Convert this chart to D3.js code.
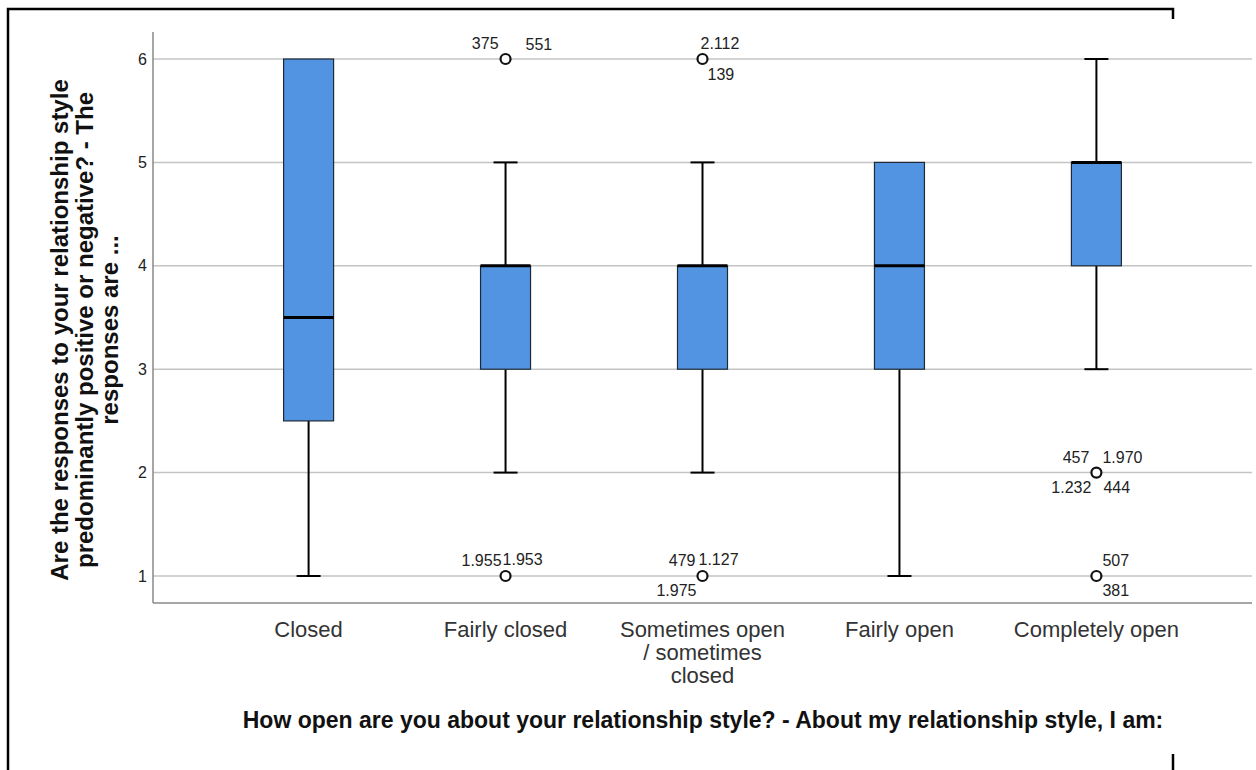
<!DOCTYPE html>
<html lang="en">
<head>
  <meta charset="utf-8">
  <title>Boxplot</title>
  <script src="https://cdn.jsdelivr.net/npm/d3@7"></script>
  <style>
    body { margin: 0; background: #fff; }
    text { font-family: "Liberation Sans", Arial, sans-serif; }
    .tick-label { font-size: 16px; fill: #222; }
    .cat-label { font-size: 22px; fill: #333; }
    .axis-title { font-size: 23px; font-weight: bold; fill: #111; }
    .y-title { font-size: 24px; }
    .out-label { font-size: 16px; fill: #222; }
  </style>
</head>
<body>
<script>
  // categories and five-number summaries
  var categories = ["Closed", "Fairly closed", "Sometimes open / sometimes closed", "Fairly open", "Completely open"];
  var categoryLines = [["Closed"], ["Fairly closed"], ["Sometimes open", "/ sometimes", "closed"], ["Fairly open"], ["Completely open"]];
  var whiskerLow = [1, 2, 2, 1, 3];
  var q1 = [2.5, 3, 3, 3, 4];
  var median = [3.5, 4, 4, 4, 5];
  var q3 = [6, 4, 4, 5, 5];
  var whiskerHigh = [6, 5, 5, 5, 6];

  // outliers: category index, value, case labels
  var outlierCat = [1, 1, 2, 2, 4, 4];
  var outlierValue = [6, 1, 6, 1, 2, 1];
  var outlierLabels = [["375", "551"], ["1.955", "1.953"], ["2.112", "139"], ["479", "1.127", "1.975"], ["457", "1.970", "1.232", "444"], ["507", "381"]];
  // label placement (dx, dy, anchor) relative to the circle
  var outlierLabelPos = [
    [[-7, -10, "end"], [20, -9, "start"]],
    [[-4, -10, "end"], [-3, -11, "start"]],
    [[-2, -10, "start"], [5, 21, "start"]],
    [[-7, -10, "end"], [-4, -11, "start"], [-6, 20, "end"]],
    [[-7, -10, "end"], [6, -10, "start"], [-5, 20, "end"], [7, 20, "start"]],
    [[6, -10, "start"], [6, 20, "start"]]
  ];
  var yTicks = [1, 2, 3, 4, 5, 6];

  var W = 1256, H = 770;
  var plotLeft = 153, plotRight = 1252, plotTop = 32, plotBottom = 603;

  var svg = d3.select("body").append("svg")
    .attr("width", W).attr("height", H);

  // document frame
  svg.append("path")
    .attr("d", "M8,770 V9 H1173 V19")
    .attr("fill", "none").attr("stroke", "#000").attr("stroke-width", 2.5);
  svg.append("line")
    .attr("x1", 1173).attr("x2", 1173).attr("y1", 754).attr("y2", 770)
    .attr("stroke", "#000").attr("stroke-width", 2.5);

  var x = d3.scalePoint()
    .domain(categories)
    .range([plotLeft, plotRight])
    .padding(0.79);

  var y = d3.scaleLinear()
    .domain([1, 6])
    .range([576, 59]);

  // gridlines
  svg.append("g").selectAll("line")
    .data(yTicks)
    .enter().append("line")
    .attr("x1", plotLeft).attr("x2", plotRight)
    .attr("y1", function(d) { return y(d); })
    .attr("y2", function(d) { return y(d); })
    .attr("stroke", "#c4c4c4").attr("stroke-width", 1.5);

  // axis lines
  svg.append("line")
    .attr("x1", plotLeft).attr("x2", plotLeft)
    .attr("y1", plotTop).attr("y2", plotBottom)
    .attr("stroke", "#888").attr("stroke-width", 1.5);
  svg.append("line")
    .attr("x1", plotLeft).attr("x2", plotRight)
    .attr("y1", plotBottom).attr("y2", plotBottom)
    .attr("stroke", "#888").attr("stroke-width", 1.5);

  // y tick labels
  svg.append("g").selectAll("text")
    .data(yTicks)
    .enter().append("text")
    .attr("class", "tick-label")
    .attr("x", 147)
    .attr("y", function(d) { return y(d); })
    .attr("dy", "0.35em")
    .attr("text-anchor", "end")
    .text(function(d) { return d; });

  // category labels
  categories.forEach(function(c, i) {
    var t = svg.append("text")
      .attr("class", "cat-label")
      .attr("text-anchor", "middle")
      .attr("x", x(c))
      .attr("y", 637);
    categoryLines[i].forEach(function(line, j) {
      t.append("tspan")
        .attr("x", x(c))
        .attr("dy", j === 0 ? 0 : 23)
        .text(line);
    });
  });

  var boxW = 50, capW = 24;

  var boxes = svg.append("g").selectAll("g")
    .data(categories)
    .enter().append("g");

  // whiskers
  boxes.append("line")
    .attr("x1", function(d) { return x(d); })
    .attr("x2", function(d) { return x(d); })
    .attr("y1", function(d, i) { return y(whiskerLow[i]); })
    .attr("y2", function(d, i) { return y(q1[i]); })
    .attr("stroke", "#000").attr("stroke-width", 2);
  boxes.append("line")
    .attr("x1", function(d) { return x(d); })
    .attr("x2", function(d) { return x(d); })
    .attr("y1", function(d, i) { return y(q3[i]); })
    .attr("y2", function(d, i) { return y(whiskerHigh[i]); })
    .attr("stroke", "#000").attr("stroke-width", 2);
  boxes.append("line")
    .attr("x1", function(d) { return x(d) - capW / 2; })
    .attr("x2", function(d) { return x(d) + capW / 2; })
    .attr("y1", function(d, i) { return y(whiskerLow[i]); })
    .attr("y2", function(d, i) { return y(whiskerLow[i]); })
    .attr("stroke", "#000").attr("stroke-width", 2);
  boxes.append("line")
    .attr("x1", function(d) { return x(d) - capW / 2; })
    .attr("x2", function(d) { return x(d) + capW / 2; })
    .attr("y1", function(d, i) { return y(whiskerHigh[i]); })
    .attr("y2", function(d, i) { return y(whiskerHigh[i]); })
    .attr("stroke", "#000").attr("stroke-width", 2)
    .attr("display", function(d, i) { return whiskerHigh[i] === q3[i] ? "none" : null; });

  // boxes
  boxes.append("rect")
    .attr("x", function(d) { return x(d) - boxW / 2; })
    .attr("width", boxW)
    .attr("y", function(d, i) { return y(q3[i]); })
    .attr("height", function(d, i) { return y(q1[i]) - y(q3[i]); })
    .attr("fill", "#5294e2")
    .attr("stroke", "#1f2a36").attr("stroke-width", 1.2);

  // medians
  boxes.append("line")
    .attr("x1", function(d) { return x(d) - boxW / 2; })
    .attr("x2", function(d) { return x(d) + boxW / 2; })
    .attr("y1", function(d, i) { return y(median[i]); })
    .attr("y2", function(d, i) { return y(median[i]); })
    .attr("stroke", "#000").attr("stroke-width", 3);

  // outliers
  outlierCat.forEach(function(ci, k) {
    var cx = x(categories[ci]), cy = y(outlierValue[k]);
    svg.append("circle")
      .attr("cx", cx).attr("cy", cy).attr("r", 5)
      .attr("fill", "#fff").attr("stroke", "#111").attr("stroke-width", 2.2);
    outlierLabels[k].forEach(function(lbl, j) {
      var p = outlierLabelPos[k][j];
      svg.append("text")
        .attr("class", "out-label")
        .attr("x", cx + p[0]).attr("y", cy + p[1])
        .attr("text-anchor", p[2])
        .text(lbl);
    });
  });

  // axis titles
  svg.append("text")
    .attr("class", "axis-title")
    .attr("x", 703).attr("y", 728)
    .attr("text-anchor", "middle")
    .text("How open are you about your relationship style? - About my relationship style, I am:");

  var yTitle = ["Are the responses to your relationship style", "predominantly positive or negative? - The", "responses are ..."];
  var yt = svg.append("text")
    .attr("class", "axis-title y-title")
    .attr("text-anchor", "middle")
    .attr("transform", "translate(68,330) rotate(-90)");
  yTitle.forEach(function(line, j) {
    yt.append("tspan").attr("x", 0).attr("dy", j === 0 ? 0 : 25).text(line);
  });
</script>
</body>
</html>
